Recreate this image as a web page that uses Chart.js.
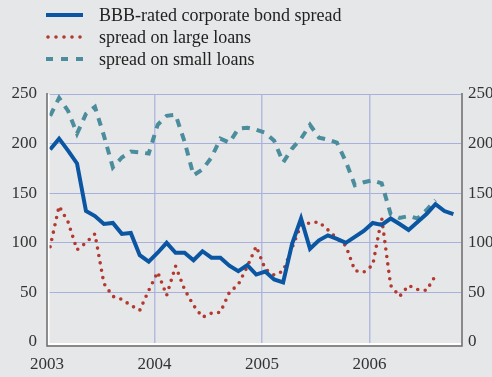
<!DOCTYPE html>
<html>
<head>
<meta charset="utf-8">
<script src="https://cdn.jsdelivr.net/npm/chart.js@4.4.6/dist/chart.umd.min.js"></script>
<style>
  body { margin: 0; background: #e6e7e9; }
  #wrap { position: relative; width: 492px; height: 377px; background: #e6e7e9; }
  #legend { position: absolute; left: 46px; top: 4px; font: 18px "Liberation Serif", serif; color: #222; }
  .row { height: 22px; line-height: 22px; display: flex; align-items: center; }
  .row svg { width: 37px; height: 10px; margin-right: 16px; }
</style>
</head>
<body>
<div id="wrap">
  <canvas id="chart"></canvas>
  <div id="legend">
    <div class="row"><svg><line x1="0" y1="5" x2="37" y2="5" stroke="#0a56a2" stroke-width="4"/></svg>BBB-rated corporate bond spread</div>
    <div class="row"><svg><line x1="2" y1="5" x2="37" y2="5" stroke="#b3382f" stroke-width="3.6" stroke-linecap="round" stroke-dasharray="0 8"/></svg>spread on large loans</div>
    <div class="row"><svg><line x1="0" y1="5" x2="37" y2="5" stroke="#4b8d9c" stroke-width="4" stroke-dasharray="7 8"/></svg>spread on small loans</div>
  </div>
</div>
<script>
// monthly observations, first point = January 2003
const startYear = 2003;
const bbbSpread = [194, 205, 193, 180, 132, 127, 119, 120, 109, 110, 87.5, 81,
  90, 100, 90, 90, 82.5, 91.5, 85, 85, 77, 71.5, 77.5, 68,
  71, 63, 60, 99, 124.5, 94, 102.5, 107.5, 104, 100, 106, 112,
  120, 118, 124.5, 119, 113, 121, 129, 139, 132, 129];
const largeLoans = [96, 137, 121, 93, 100, 109, 59, 46, 43, 37, 32, 52,
  70.5, 47, 76.5, 53, 37, 25, 29, 30, 50, 58, 76, 96.5,
  73.5, 67.5, 71.5, 95, 118, 120, 121, 113, 104.5, 97, 72, 70.5,
  77.5, 125, 57, 46, 57, 53, 52, 67];
const smallLoans = [228, 246, 233, 210, 230, 237, 208, 176, 186, 192, 191, 190,
  219, 228, 229, 202, 168, 174, 186, 205, 201, 215, 216, 214,
  211, 203, 181, 195, 205, 219, 206, 204, 201, 182, 158, 161,
  163, 160, 129, 125, 127, 124.5, 133, 143];
const yearTicks = [2003, 2004, 2005, 2006];
const valueTicks = [0, 50, 100, 150, 200, 250];

// month index -> position on the year axis
const toPoints = arr => arr.map((v, i) => ({ x: startYear + (i + 0.35) / 12, y: v }));

const tickFont = { family: "Liberation Serif", size: 17 };

// bevelled frame: grey outer line with a white inner highlight
const frame = {
  id: 'frame',
  afterDraw(chart) {
    const { ctx, chartArea: a } = chart;
    ctx.save();
    ctx.strokeStyle = '#ffffff';
    ctx.lineWidth = 2;
    ctx.beginPath();
    ctx.moveTo(a.left + 1.5, a.top);
    ctx.lineTo(a.left + 1.5, a.bottom - 1);
    ctx.lineTo(a.right, a.bottom - 1);
    ctx.stroke();
    ctx.strokeStyle = '#6b6b6b';
    ctx.lineWidth = 1.5;
    ctx.beginPath();
    ctx.moveTo(a.left, a.top - 1);
    ctx.lineTo(a.left, a.bottom + 1);
    ctx.lineTo(a.right + 1, a.bottom + 1);
    ctx.lineTo(a.right + 1, a.top - 1);
    ctx.stroke();
    ctx.restore();
  }
};

new Chart(document.getElementById('chart'), {
  type: 'line',
  data: {
    datasets: [
      {
        label: 'BBB-rated corporate bond spread',
        data: toPoints(bbbSpread),
        borderColor: '#0a56a2',
        borderWidth: 4,
        yAxisID: 'y'
      },
      {
        label: 'spread on large loans',
        data: toPoints(largeLoans),
        borderColor: '#b3382f',
        borderWidth: 3.6,
        borderDash: [0, 7.5],
        borderCapStyle: 'round',
        yAxisID: 'y'
      },
      {
        label: 'spread on small loans',
        data: toPoints(smallLoans),
        borderColor: '#4b8d9c',
        borderWidth: 4,
        borderDash: [8, 7],
        yAxisID: 'y'
      }
    ]
  },
  options: {
    responsive: true,
    maintainAspectRatio: false,
    animation: false,
    layout: { padding: { top: 94, left: 0, right: 0, bottom: 0 } },
    elements: { point: { radius: 0 }, line: { tension: 0 } },
    plugins: { legend: { display: false }, tooltip: { enabled: false } },
    scales: {
      x: {
        type: 'linear',
        min: 2003,
        max: 2006.85,
        afterBuildTicks: s => { s.ticks = yearTicks.map(v => ({ value: v })); },
        afterFit: s => { s.height = 32; },
        ticks: { font: tickFont, color: '#333', padding: 9, callback: v => String(v) },
        grid: {
          drawTicks: false,
          lineWidth: 1.5,
          color: c => (c.tick && c.tick.value === 2003 ? 'rgba(0,0,0,0)' : '#b3bbe0')
        },
        border: { display: false }
      },
      y: {
        position: 'left',
        min: -3,
        max: 250,
        afterBuildTicks: s => { s.ticks = valueTicks.map(v => ({ value: v })); },
        afterFit: s => { s.width = 47; },
        ticks: { font: tickFont, color: '#333', padding: 10 },
        grid: {
          drawTicks: false,
          lineWidth: 1,
          color: c => (c.tick && c.tick.value === 0 ? 'rgba(0,0,0,0)' : '#a8b1dc')
        },
        border: { display: false }
      },
      y2: {
        position: 'right',
        min: -3,
        max: 250,
        afterBuildTicks: s => { s.ticks = valueTicks.map(v => ({ value: v })); },
        afterFit: s => { s.width = 31; },
        ticks: { font: tickFont, color: '#333', padding: 7 },
        grid: { display: false, drawTicks: false },
        border: { display: false }
      }
    }
  },
  plugins: [frame]
});
</script>
</body>
</html>
